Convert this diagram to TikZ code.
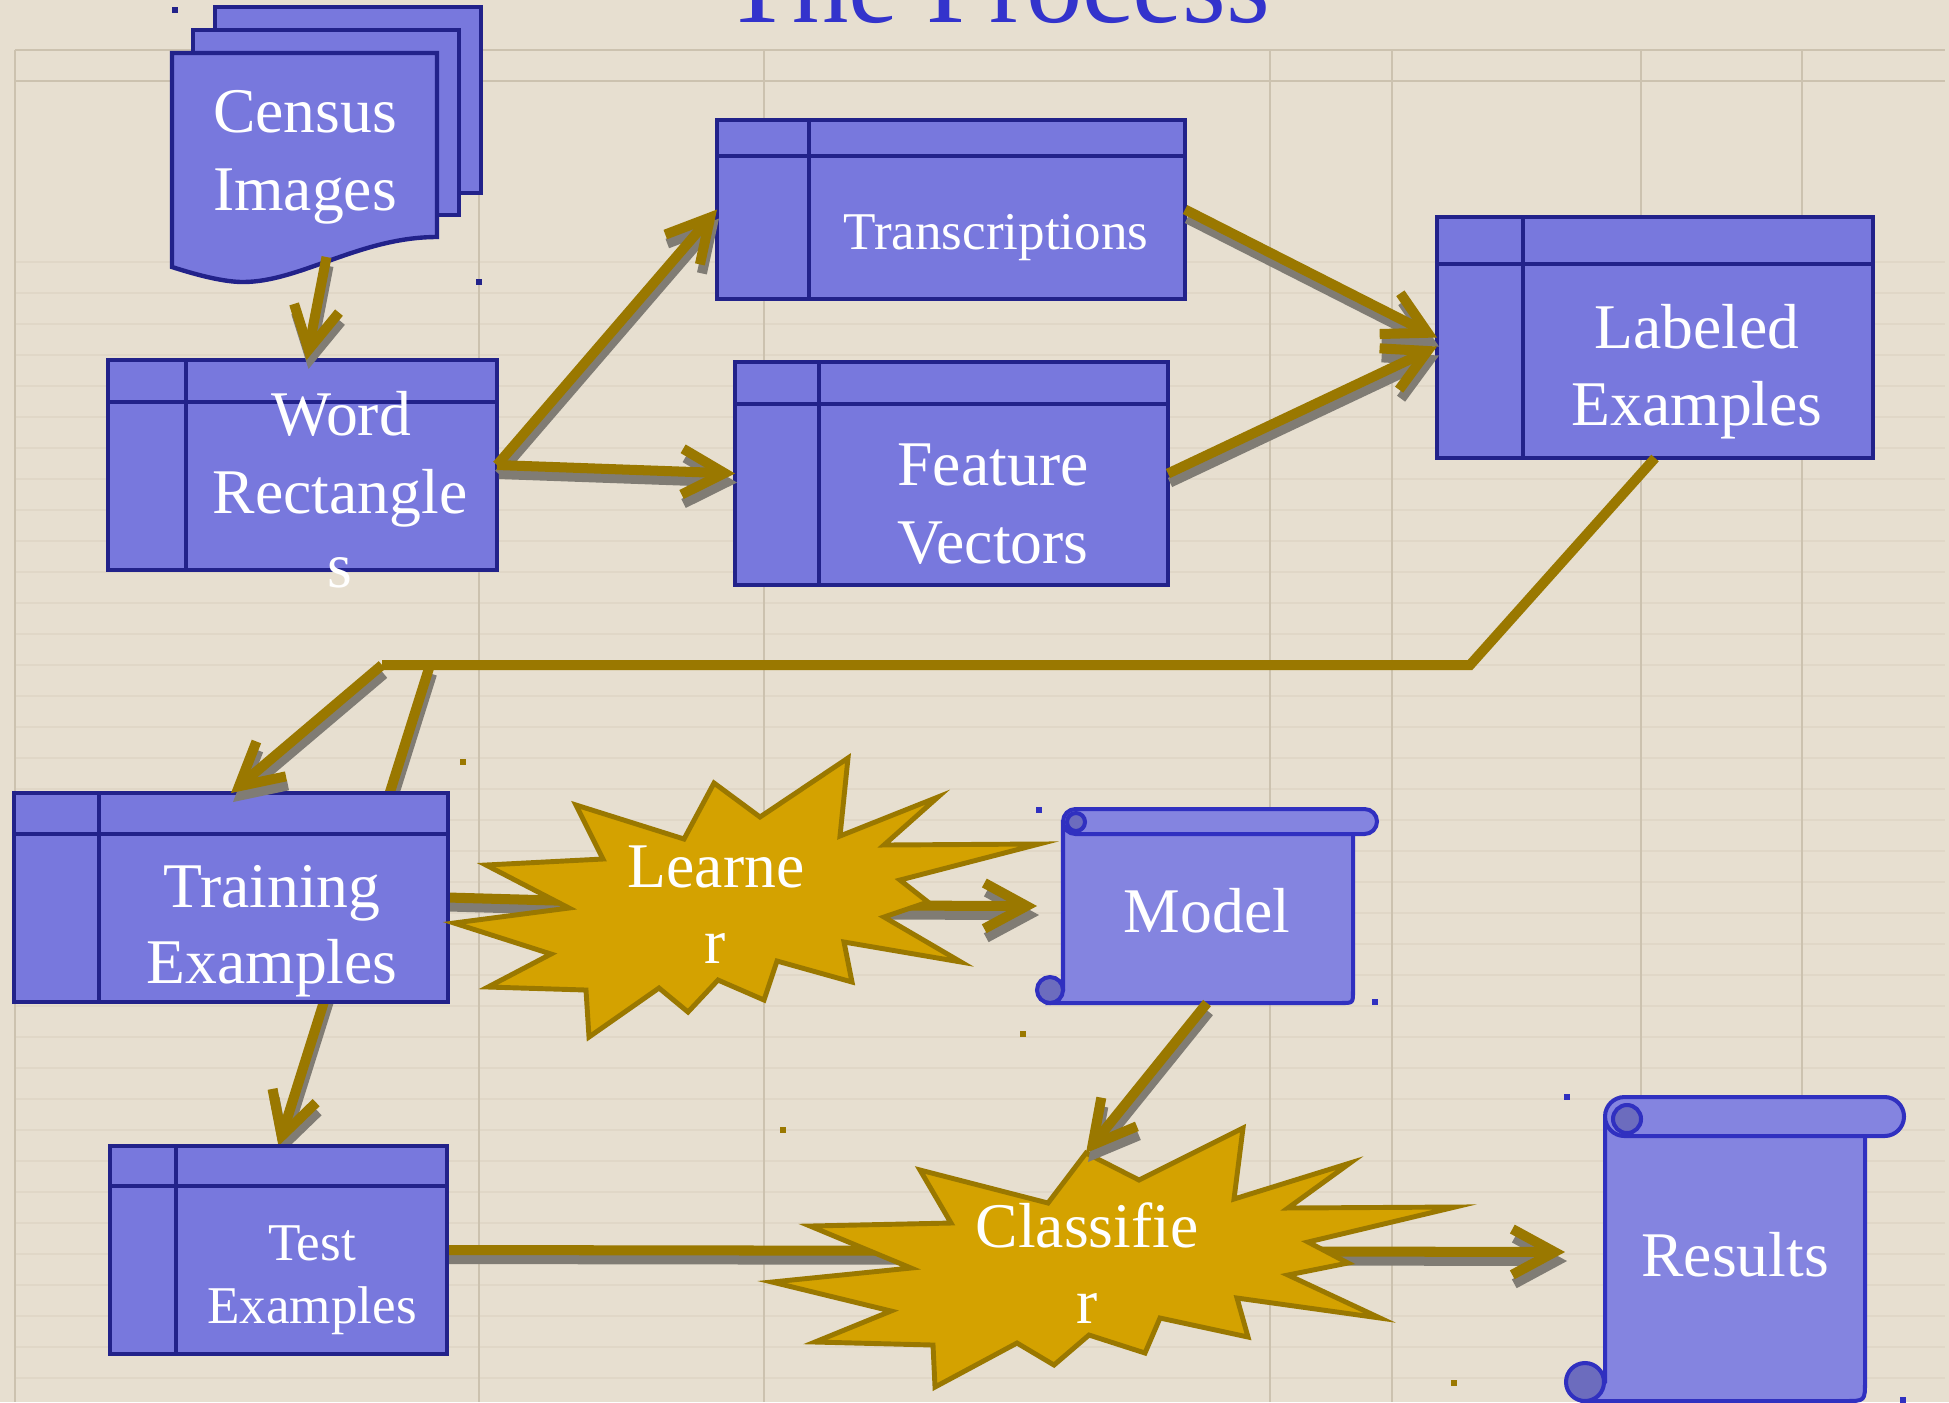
\documentclass[tikz,border=0pt]{standalone}
\usepackage{fontspec}
\setmainfont{Liberation Serif}
\usetikzlibrary{arrows.meta,fit,calc}

\definecolor{bg}{RGB}{231,223,208}
\definecolor{gridc}{RGB}{204,194,175}
\definecolor{boxfill}{RGB}{120,120,221}
\definecolor{boxline}{RGB}{34,34,138}
\definecolor{scrfill}{RGB}{132,132,224}
\definecolor{scrline}{RGB}{48,48,192}
\definecolor{curlfill}{RGB}{108,108,190}
\definecolor{gold}{RGB}{154,120,0}
\definecolor{starfill}{RGB}{212,162,0}
\definecolor{shade}{RGB}{128,124,116}
\definecolor{titleblue}{RGB}{51,51,204}

\newcommand{\lblbig}{\fontsize{18.1pt}{21.7pt}\selectfont}
\newcommand{\lblsmall}{\fontsize{15.1pt}{18pt}\selectfont}
\newcommand{\ttlfont}{\fontsize{32pt}{36pt}\selectfont}

\tikzset{
  store/.style={draw=boxline, fill=boxfill, line width=1.4pt},
  storeline/.style={draw=boxline, line width=1.4pt},
  sheet/.style={draw=boxline, fill=boxfill, line width=1.25pt, line join=miter},
  scroll/.style={draw=scrline, fill=scrfill, line width=1.15pt},
  curl/.style={draw=scrline, fill=curlfill, line width=1.15pt},
  burst/.style={draw=gold, fill=starfill, line width=1.4pt, line join=miter},
  chevron/.style={-{Straight Barb[length=12pt,width=13pt,sharp]}},
  flow/.style={draw=gold, line width=2.85pt},
  flowshadow/.style={draw=shade, line width=2.85pt, transform canvas={shift={(0.02cm,-0.09cm)}}},
  lbl/.style={text=white, anchor=base, inner sep=0pt, font=\lblbig},
  lbls/.style={text=white, anchor=base, inner sep=0pt, font=\lblsmall},
  geom/.style={inner sep=0pt, outer sep=0pt}
}

\newcommand{\linkarrow}[2]{%
  \draw[flowshadow,chevron] #1 -- #2;
  \draw[flow,chevron] #1 -- #2;}
\newcommand{\linkline}[2]{%
  \draw[flowshadow] #1 -- #2;
  \draw[flow] #1 -- #2;}

\begin{document}
\begin{tikzpicture}[x=0.01cm, y=-0.01cm]
\useasboundingbox (0,0) rectangle (1949,1402);
\clip (0,0) rectangle (1949,1402);
\fill[bg] (0,0) rectangle (1949,1402);

% faint census form lines
\begin{scope}[draw=gridc, line width=0.7pt]
  \draw (15,50) -- (1945,50);
  \draw (15,81) -- (1945,81);
  \foreach \x in {15,479,764,1270,1392,1641,1802} \draw (\x,50) -- (\x,1402);
\end{scope}
\begin{scope}[draw=gridc, line width=0.5pt, opacity=0.25]
  \foreach \y in {262,293,...,1402} \draw (15,\y) -- (1945,\y);
\end{scope}

% title
\node[anchor=base, text=titleblue, font=\ttlfont, inner sep=0pt] (title) at (997,22) {The Process};

% geometry of the shapes
\node[geom, fit={(172,53) (437,267)}] (census) {};
\node[geom, fit={(108,360) (497,570)}] (wr) {};
\node[geom, fit={(717,120) (1185,299)}] (tr) {};
\node[geom, fit={(735,362) (1168,585)}] (fv) {};
\node[geom, fit={(1437,217) (1873,458)}] (lab) {};
\node[geom, fit={(14,793) (448,1002)}] (train) {};
\node[geom, fit={(110,1146) (447,1354)}] (test) {};
\node[geom, fit={(1037,809) (1377,1003)}] (model) {};
\node[geom, fit={(1565,1097) (1904,1407)}] (res) {};
\node[geom] (learn) at (716,905) {};
\node[geom] (cls) at (1087,1251) {};
\coordinate (clstip) at (1086,1153);
\coordinate (bend) at (1470,665);
\coordinate (j1) at (382,665);
\coordinate (j2) at (430,665);

% connectors that pass behind shapes
\linkarrow{(j2)}{(test.north)}
\linkline{(train.east)}{(learn)}
\linkarrow{(learn)}{(model.west)}
\linkline{(test.east)}{(cls)}
\linkarrow{(cls)}{(res.west)}

% census images (multi document)
\filldraw[sheet] (215,7) rectangle (481,193);
\filldraw[sheet] (193,30) rectangle (459,215);
\filldraw[sheet] (172,53) -- (437,53) -- (437,237)
   .. controls (360,237) and (300,282) .. (243,282)
   .. controls (225,282) and (200,276) .. (172,267) -- cycle;

% storage boxes
\filldraw[store] (wr.north west) rectangle (wr.south east);
\draw[storeline] (108,402) -- (497,402) (186,360) -- (186,570);
\filldraw[store] (tr.north west) rectangle (tr.south east);
\draw[storeline] (717,156) -- (1185,156) (809,120) -- (809,299);
\filldraw[store] (fv.north west) rectangle (fv.south east);
\draw[storeline] (735,404) -- (1168,404) (819,362) -- (819,585);
\filldraw[store] (lab.north west) rectangle (lab.south east);
\draw[storeline] (1437,264) -- (1873,264) (1523,217) -- (1523,458);
\filldraw[store] (train.north west) rectangle (train.south east);
\draw[storeline] (14,834) -- (448,834) (99,793) -- (99,1002);
\filldraw[store] (test.north west) rectangle (test.south east);
\draw[storeline] (110,1186) -- (447,1186) (176,1146) -- (176,1354);

% model scroll
\filldraw[scroll] (1063,822) -- (1063,990) -- (1050,1003) -- (1341,1003)
   .. controls (1353,1003) .. (1353,991) -- (1353,822) -- cycle;
\filldraw[scroll, rounded corners=0.125cm] (1063,809) rectangle (1377,834);
\filldraw[curl] (1076,822) circle[radius=0.09cm];
\filldraw[curl] (1050,990) circle[radius=0.13cm];

% results scroll
\filldraw[scroll] (1605,1116) -- (1605,1382) -- (1585,1401) -- (1845,1401)
   .. controls (1865,1401) .. (1865,1381) -- (1865,1116) -- cycle;
\filldraw[scroll, rounded corners=0.195cm] (1605,1097) rectangle (1904,1136);
\filldraw[curl] (1627,1119) circle[radius=0.14cm];
\filldraw[curl] (1585,1382) circle[radius=0.19cm];

% learner starburst
\filldraw[burst] (576,805) -- (684,839) -- (714,783) -- (760,817) -- (848,758)
  -- (840,836) -- (938,797) -- (884,845) -- (1039,844) -- (900,880) -- (928,902)
  -- (884,917) -- (961,962) -- (844,942) -- (852,982) -- (777,961) -- (764,1000)
  -- (718,980) -- (688,1012) -- (659,988) -- (589,1037) -- (586,990) -- (488,987)
  -- (551,954) -- (454,923) -- (569,908) -- (486,865) -- (603,859) -- cycle;

% classifier starburst
\filldraw[burst] (920,1170) -- (1048,1203) -- (1086,1153) -- (1139,1180) -- (1243,1128)
  -- (1234,1199) -- (1350,1163) -- (1288,1208) -- (1455,1207) -- (1308,1242)
  -- (1348,1263) -- (1288,1275) -- (1380,1318) -- (1237,1298) -- (1248,1337)
  -- (1160,1318) -- (1145,1353) -- (1089,1335) -- (1054,1365) -- (1017,1343)
  -- (935,1387) -- (933,1345) -- (815,1342) -- (891,1311) -- (772,1282)
  -- (911,1268) -- (810,1226) -- (951,1223) -- cycle;

% connectors on top
\linkarrow{($(census.south)+(22,-10)$)}{($(wr.north)+(4,0)$)}
\linkarrow{(wr.east)}{(tr.west)}
\linkarrow{(wr.east)}{(fv.west)}
\linkarrow{(tr.east)}{(lab.west)}
\linkarrow{(fv.east)}{($(lab.west)+(0,9)$)}
\draw[flow, line join=miter] (lab.south) -- (bend) -- (j1);
\linkarrow{(j1)}{(train.north)}
\linkarrow{(model.south)}{(clstip)}

% small marker squares
\fill[boxline] (172,7) rectangle (178,13);
\fill[boxline] (476,279) rectangle (482,285);
\fill[gold] (460,759) rectangle (466,765);
\fill[gold] (1020,1031) rectangle (1026,1037);
\fill[gold] (780,1127) rectangle (786,1133);
\fill[gold] (1451,1380) rectangle (1457,1386);
\fill[scrline] (1036,807) rectangle (1042,813);
\fill[scrline] (1372,999) rectangle (1378,1005);
\fill[scrline] (1564,1094) rectangle (1570,1100);
\fill[scrline] (1900,1397) rectangle (1906,1403);

% labels
\node[lbl] (tCensus) at (305,132) {Census};
\node[lbl] (tImages) at (305,210) {Images};
\node[lbl] (tWord) at (341,435) {Word};
\node[lbl] (tRect) at (340,513) {Rectangle};
\node[lbl] (tS) at (340,587) {s};
\node[lbls] (tTrans) at (996,249) {Transcriptions};
\node[lbl] (tFeat) at (993,485) {Feature};
\node[lbl] (tVec) at (993,563) {Vectors};
\node[lbl] (tLab) at (1697,348) {Labeled};
\node[lbl] (tLabEx) at (1697,425) {Examples};
\node[lbl] (tTrain) at (272,907) {Training};
\node[lbl] (tTrainEx) at (272,983) {Examples};
\node[lbl] (tLearn) at (716,887) {Learne};
\node[lbl] (tLearnR) at (715,963) {r};
\node[lbl] (tModel) at (1207,932) {Model};
\node[lbls] (tTest) at (312,1260) {Test};
\node[lbls] (tTestEx) at (312,1323) {Examples};
\node[lbl] (tCls) at (1087,1247) {Classifie};
\node[lbl] (tClsR) at (1087,1323) {r};
\node[lbl] (tRes) at (1735,1276) {Results};
\end{tikzpicture}
\end{document}
